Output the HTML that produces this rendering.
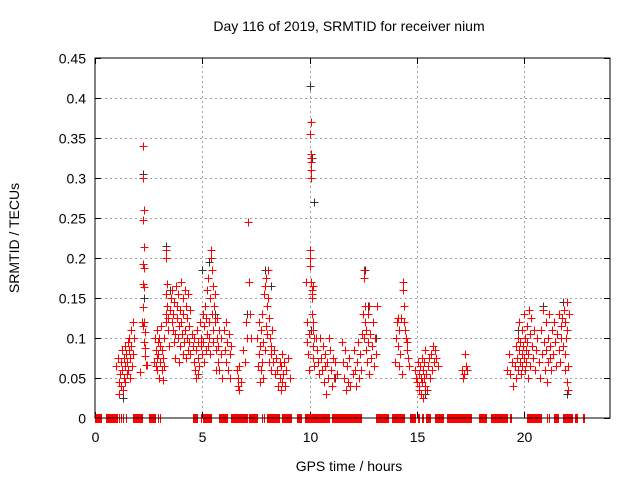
<!DOCTYPE html>
<html><head><meta charset="utf-8"><style>
body{margin:0;background:#fff}
svg{display:block;font-family:"Liberation Sans",sans-serif}
</style></head><body>
<svg id="chart" width="640" height="480">
<rect width="640" height="480" fill="#fff"/>
<text x="349" y="31" font-size="14" text-anchor="middle">Day 116 of 2019, SRMTID for receiver nium</text>
<text x="349" y="471" font-size="14" text-anchor="middle">GPS time / hours</text>
<text transform="translate(19,238) rotate(-90)" font-size="14" text-anchor="middle">SRMTID / TECUs</text>
<g id="grid"></g><g id="ticks"></g><g id="marks"></g>
<rect x="95" y="58" width="515" height="360" fill="none" stroke="#000" stroke-width="1"/>
</svg>
<script>
const xTicks=[0,5,10,15,20];
const yTicks=[0,0.05,0.1,0.15,0.2,0.25,0.3,0.35,0.4,0.45];
const yTickLabels=["0","0.05","0.1","0.15","0.2","0.25","0.3","0.35","0.4","0.45"];
const redX=[
1.0,1.05,1.1,1.12,1.15,1.2,1.22,1.25,1.28,1.3,
1.33,1.35,1.38,1.4,1.42,1.45,1.48,1.5,1.52,1.55,
1.58,1.6,1.62,1.65,1.68,1.7,1.72,1.75,1.78,1.8,
2.2,2.22,2.25,2.25,2.27,2.25,2.27,2.25,2.27,2.25,
2.28,2.25,2.3,2.32,2.3,2.35,2.33,2.38,2.4,2.1,
2.75,2.8,2.82,2.85,2.88,2.9,2.9,2.92,2.95,2.97,
3.0,3.02,3.05,3.08,3.1,3.12,3.15,3.18,3.2,3.22,
3.3,3.33,3.35,3.33,3.3,3.32,3.35,3.4,3.42,3.45,
3.5,3.55,3.58,3.6,3.62,3.65,3.68,3.7,3.72,3.75,
3.78,3.8,3.82,3.85,3.88,3.9,3.92,3.95,3.98,4.0,
4.02,4.05,4.08,4.1,4.12,4.15,4.18,4.2,4.22,4.25,
4.28,4.3,4.32,4.35,4.38,4.4,4.42,4.45,4.5,4.55,
4.6,4.62,4.65,4.7,4.72,4.75,4.78,4.8,4.82,4.85,
4.9,4.92,4.95,5.0,5.02,5.05,5.08,5.1,5.12,5.15,
5.18,5.2,5.22,5.25,5.28,5.3,5.32,5.35,5.38,5.4,
5.42,5.45,5.45,5.48,5.5,5.52,5.55,5.58,5.6,5.62,
5.65,5.68,5.7,5.72,5.75,5.78,5.8,5.85,5.88,5.9,
6.0,6.05,6.1,6.12,6.15,6.2,6.25,6.28,6.3,6.35,
6.62,6.65,6.68,6.7,6.72,6.8,6.9,7.0,7.1,7.05,
7.15,7.17,7.2,7.25,7.55,7.6,7.62,7.65,7.68,7.7,
7.72,7.75,7.78,7.8,7.82,7.85,7.88,7.9,7.92,7.95,
7.98,8.0,8.02,8.05,8.08,8.1,8.12,8.15,8.18,8.2,
8.22,8.25,8.3,8.35,8.4,8.45,8.5,8.55,8.6,8.62,
8.65,8.68,8.7,8.72,8.75,8.8,8.85,8.9,9.0,9.1,
9.85,9.9,9.9,9.92,9.95,9.95,10.0,10.0,10.02,10.05,
10.02,10.05,10.07,10.05,10.08,10.07,10.08,10.1,10.12,10.1,
10.15,10.13,10.15,10.17,10.2,10.18,10.15,10.2,10.3,10.35,
10.4,10.45,10.5,10.55,10.6,10.62,10.65,10.7,10.72,10.75,
10.8,10.85,10.9,10.95,11.0,11.05,11.1,11.15,11.2,11.3,
11.5,11.55,11.6,11.65,11.7,11.75,11.8,11.85,11.9,12.0,
12.05,12.1,12.15,12.2,12.25,12.3,12.35,12.4,12.45,12.5,
12.52,12.55,12.55,12.58,12.6,12.62,12.65,12.68,12.7,12.72,
12.75,12.78,12.8,12.85,12.9,12.95,13.0,13.05,13.1,13.15,
14.0,14.05,14.08,14.1,14.12,14.15,14.18,14.2,14.25,14.3,
14.35,14.37,14.4,14.42,14.45,14.5,14.52,14.55,14.6,14.65,
14.9,14.95,15.0,15.05,15.08,15.1,15.12,15.15,15.18,15.2,
15.22,15.25,15.28,15.3,15.32,15.35,15.38,15.4,15.42,15.45,
15.5,15.55,15.6,15.65,15.7,15.75,15.8,15.85,15.9,16.0,
17.1,17.15,17.2,17.25,17.3,17.35,
19.2,19.3,19.35,19.45,19.5,19.55,19.6,19.62,19.65,19.7,
19.72,19.75,19.78,19.8,19.82,19.85,19.88,19.9,19.92,19.95,
19.98,20.0,20.02,20.05,20.08,20.1,20.12,20.15,20.18,20.2,
20.22,20.25,20.28,20.3,20.35,20.4,20.45,20.5,20.55,20.6,
20.7,20.75,20.8,20.85,20.9,20.92,20.95,21.0,21.02,21.05,
21.1,21.12,21.15,21.2,21.22,21.25,21.3,21.35,21.4,21.45,
21.5,21.55,21.6,21.62,21.65,21.7,21.72,21.75,21.8,21.85,
21.88,21.9,21.92,21.95,22.0,22.0,22.05,22.1,21.98,22.02];
const redY=[
0.065,0.075,0.045,0.03,0.055,0.07,0.04,0.085,0.06,0.035,
0.075,0.05,0.09,0.065,0.045,0.08,0.055,0.07,0.095,0.06,
0.085,0.1,0.075,0.05,0.09,0.11,0.065,0.12,0.08,0.1,
0.12,0.115,0.34,0.3,0.26,0.247,0.214,0.193,0.187,0.168,
0.164,0.139,0.12,0.108,0.095,0.087,0.078,0.066,0.066,0.057,
0.07,0.1,0.065,0.085,0.075,0.11,0.06,0.095,0.08,0.05,
0.1,0.07,0.09,0.115,0.06,0.085,0.075,0.048,0.1,0.065,
0.2,0.21,0.168,0.155,0.13,0.12,0.14,0.11,0.125,0.09,
0.135,0.15,0.12,0.16,0.11,0.13,0.095,0.145,0.105,0.075,
0.165,0.125,0.14,0.1,0.155,0.115,0.07,0.135,0.09,0.17,
0.12,0.105,0.15,0.08,0.13,0.095,0.16,0.11,0.075,0.14,
0.1,0.125,0.085,0.155,0.115,0.095,0.135,0.08,0.105,0.09,
0.07,0.1,0.06,0.085,0.05,0.11,0.075,0.095,0.055,0.065,
0.12,0.09,0.1,0.08,0.13,0.095,0.115,0.07,0.14,0.085,
0.125,0.105,0.16,0.09,0.175,0.12,0.1,0.15,0.08,0.2,
0.21,0.185,0.13,0.11,0.165,0.095,0.14,0.12,0.155,0.085,
0.06,0.125,0.1,0.07,0.09,0.11,0.06,0.08,0.1,0.05,
0.11,0.085,0.12,0.07,0.095,0.06,0.105,0.05,0.08,0.09,
0.06,0.04,0.05,0.035,0.065,0.045,0.085,0.07,0.1,0.12,
0.245,0.17,0.13,0.1,0.1,0.065,0.12,0.08,0.045,0.09,
0.11,0.06,0.07,0.13,0.05,0.095,0.155,0.085,0.165,0.115,
0.175,0.14,0.105,0.185,0.15,0.125,0.07,0.1,0.08,0.06,
0.09,0.11,0.07,0.085,0.055,0.075,0.06,0.04,0.07,0.05,
0.035,0.065,0.08,0.045,0.055,0.07,0.04,0.06,0.075,0.05,
0.17,0.12,0.095,0.08,0.06,0.105,0.2,0.21,0.19,0.37,
0.355,0.33,0.325,0.32,0.31,0.3,0.17,0.16,0.155,0.15,
0.165,0.13,0.12,0.11,0.1,0.09,0.075,0.065,0.1,0.085,
0.07,0.055,0.1,0.075,0.06,0.09,0.045,0.08,0.065,0.03,
0.07,0.05,0.1,0.085,0.06,0.04,0.075,0.05,0.07,0.055,
0.095,0.07,0.05,0.085,0.035,0.065,0.045,0.075,0.04,0.055,
0.085,0.06,0.04,0.07,0.095,0.05,0.08,0.06,0.105,0.13,
0.1,0.185,0.175,0.14,0.12,0.085,0.11,0.07,0.095,0.13,
0.055,0.14,0.105,0.075,0.09,0.12,0.065,0.1,0.08,0.14,
0.07,0.1,0.12,0.125,0.09,0.065,0.11,0.08,0.125,0.055,
0.17,0.16,0.14,0.12,0.11,0.1,0.085,0.095,0.075,0.065,
0.06,0.05,0.045,0.07,0.035,0.055,0.04,0.065,0.03,0.05,
0.075,0.045,0.06,0.025,0.05,0.07,0.04,0.085,0.055,0.035,
0.065,0.075,0.05,0.08,0.06,0.09,0.07,0.085,0.075,0.065,
0.06,0.05,0.055,0.08,0.065,0.06,
0.06,0.08,0.055,0.07,0.04,0.065,0.09,0.05,0.075,0.1,
0.06,0.085,0.12,0.07,0.095,0.055,0.08,0.11,0.065,0.09,
0.075,0.13,0.06,0.1,0.085,0.07,0.115,0.095,0.05,0.08,
0.135,0.105,0.065,0.125,0.09,0.075,0.11,0.06,0.085,0.1,
0.07,0.05,0.11,0.08,0.135,0.095,0.06,0.12,0.085,0.045,
0.07,0.1,0.13,0.075,0.09,0.06,0.11,0.08,0.12,0.095,
0.065,0.105,0.085,0.13,0.07,0.1,0.115,0.125,0.09,0.135,
0.12,0.08,0.06,0.1,0.11,0.045,0.035,0.13,0.145,0.065];
const blackX=[1.3,2.25,2.3,3.3,3.5,4.2,5.0,5.3,5.6,7.1,7.9,8.2,10.0,10.1,10.2,10.05,11.2,12.6,12.7,13.1,14.4,15.4,19.7,20.9,21.4,21.8,22.0];
const blackY=[0.025,0.305,0.15,0.215,0.16,0.11,0.185,0.195,0.13,0.13,0.185,0.165,0.415,0.325,0.27,0.11,0.05,0.185,0.14,0.1,0.12,0.03,0.11,0.14,0.12,0.145,0.03];
const zeroRunStart=[0,0.51,1.12,1.21,1.30,1.44,1.77,2.52,2.94,3.03,4.57,4.94,5.03,5.78,6.34,7.18,7.78,7.88,8.02,8.71,9.41,9.79,11.04,13.10,13.84,14.68,15.05,15.24,15.43,15.84,16.40,17.90,18.45,19.34,20.13,21.06,21.16,21.39,21.81,22.37,22.74];
const zeroRunEnd=[0.33,1.07,1.12,1.21,1.30,1.44,2.24,2.84,2.94,3.03,4.80,4.94,5.45,6.20,7.13,7.60,7.78,7.88,8.62,9.18,9.65,10.95,12.44,13.70,14.45,14.96,15.15,15.33,15.66,16.26,17.57,18.27,19.25,19.43,20.83,21.06,21.16,21.62,22.28,22.51,22.84];
const NS='http://www.w3.org/2000/svg';
const X0=95,X1=610,Y0=418,Y1=58;
const sx=v=>X0+v/24*(X1-X0);
const sy=v=>Y0-v/0.45*(Y0-Y1);
const grid=document.getElementById('grid'),ticks=document.getElementById('ticks'),marks=document.getElementById('marks');
function mk(tag,attrs,parent){const e=document.createElementNS(NS,tag);for(const k in attrs)e.setAttribute(k,attrs[k]);parent.appendChild(e);return e;}
yTicks.forEach((v,i)=>{
  const y=Math.round(sy(v))+0.5;
  if(i>0&&i<yTicks.length-1){const g=mk('line',{x1:X0,x2:X1,y1:y,y2:y,stroke:'#a0a0a0','stroke-dasharray':'2,3'},grid);
  
  }
  mk('line',{x1:X0,x2:X0+6,y1:y,y2:y,stroke:'#000'},ticks);
  mk('line',{x1:X1-6,x2:X1,y1:y,y2:y,stroke:'#000'},ticks);
  const t=mk('text',{x:X0-9,y:y+5,'font-size':14,'text-anchor':'end'},ticks);t.textContent=yTickLabels[i];
  
  
});
xTicks.forEach(v=>{
  const x=Math.round(sx(v))+0.5;
  if(v>0){const g=mk('line',{x1:x,x2:x,y1:Y0,y2:Y1,stroke:'#a0a0a0','stroke-dasharray':'2,3'},grid);
  
  }
  mk('line',{x1:x,x2:x,y1:Y0,y2:Y0-6,stroke:'#000'},ticks);
  mk('line',{x1:x,x2:x,y1:Y1,y2:Y1+6,stroke:'#000'},ticks);
  const t=mk('text',{x:x,y:Y0+24,'font-size':14,'text-anchor':'middle'},ticks);t.textContent=String(v);
  
  
});
function plus(x,y,color,name){
  const cx=Math.round(sx(x))+0.5,cy=Math.round(sy(y))+0.5;
  const p=mk('path',{d:`M${cx-4},${cy}H${cx+4}M${cx},${cy-4}V${cy+4}`,stroke:color,'stroke-width':1,fill:'none'},marks);
  
  
}
blackX.forEach((x,i)=>plus(x,blackY[i],'#333','black-point'));
redX.forEach((x,i)=>plus(x,redY[i],'#ff0000','red-point'));
zeroRunStart.forEach((s,i)=>{
  const a=Math.round(sx(s)),b=Math.round(sx(zeroRunEnd[i]));
  const r=mk('rect',{x:a,y:Y0-4,width:Math.max(1,b-a),height:9,fill:'#ff0000'},marks);
  
  
});
</script>
</body></html>
